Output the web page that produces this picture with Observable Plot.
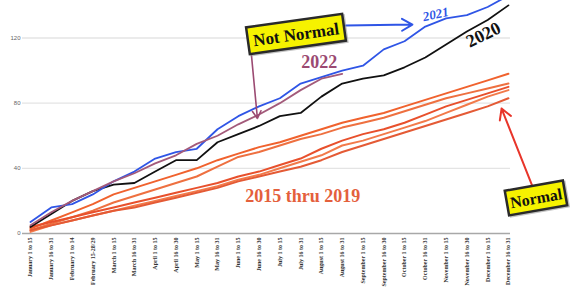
<!DOCTYPE html>
<html><head><meta charset="utf-8">
<script src="https://cdn.jsdelivr.net/npm/d3@7"></script>
<script src="https://cdn.jsdelivr.net/npm/@observablehq/plot@0.6"></script>
<style>html,body{margin:0;padding:0;background:#fff}#chart svg{display:block}</style>
</head><body><div id="chart"></div>
<script>
const periods = ["January 1 to 15","January 16 to 31","February 1 to 14","February 15-28/29",
  "March 1 to 15","March 16 to 31","April 1 to 15","April 16 to 30","May 1 to 15","May 16 to 31",
  "June 1 to 15","June 16 to 30","July 1 to 15","July 16 to 31","August 1 to 15","August 16 to 31",
  "September 1 to 15","September 16 to 30","October 1 to 15","October 16 to 31",
  "November 1 to 15","November 16 to 30","December 1 to 15","December 16 to 31"];
const yTicks = [0, 40, 80, 120];

const y2015 = [3, 8, 13, 18, 24, 28, 32, 36, 40, 45, 49, 53, 56, 60, 64, 68, 71, 74, 78, 82, 86, 90, 94, 98];
const y2016 = [2, 6, 10, 14, 19, 23, 27, 31, 35, 41, 47, 50, 54, 58, 61, 65, 68, 71, 75, 79, 83, 86, 89, 92];
const y2017 = [4, 7, 10, 13, 16, 19, 22, 25, 28, 31, 35, 38, 42, 46, 52, 57, 61, 64, 68, 73, 78, 82, 86, 90];
const y2018 = [1, 5, 8, 11, 14, 17, 20, 23, 26, 29, 33, 36, 40, 44, 48, 54, 57, 61, 65, 69, 74, 79, 84, 88];
const y2019 = [2, 5, 8, 11, 14, 16, 19, 22, 25, 28, 32, 35, 38, 41, 45, 50, 54, 58, 62, 66, 70, 74, 78, 83];
const y2020 = [4, 12, 20, 26, 30, 31, 38, 45, 45, 56, 61, 66, 72, 74, 84, 92, 95, 97, 102, 108, 116, 124, 131, 140];
const y2021 = [7, 16, 18, 24, 32, 38, 46, 50, 52, 64, 72, 78, 83, 92, 96, 100, 103, 113, 118, 127, 132, 134, 139, 146];
const y2022 = [5, 13, 20, 26, 32, 37, 43, 48, 55, 60, 67, 73, 80, 88, 95, 98];

const seriesNames = ["2015","2016","2017","2018","2019","2020","2021","2022"];
const seriesValues = [y2015, y2016, y2017, y2018, y2019, y2020, y2021, y2022];
const seriesColors = ["#f0622e","#ee7040","#e8502c","#f27a4a","#e45a35","#111111","#2f55e6","#a35a7a"];

const rows = seriesNames.flatMap((name, k) => seriesValues[k].map((v, i) => ({series: name, i, v})));
const orangeRows = rows.filter(d => +d.series <= 2019);
const topRows = rows.filter(d => +d.series >= 2020);

const serif = "Liberation Serif, Times New Roman, serif";

const plot = Plot.plot({
  width: 572, height: 297,
  marginLeft: 22, marginRight: 62, marginTop: 0, marginBottom: 64,
  x: {domain: [-0.385, 23.1]},
  y: {domain: [0, 143]},
  color: {domain: seriesNames, range: seriesColors},
  style: {background: "#fff", fontFamily: serif, overflow: "hidden"},
  marks: [
    Plot.ruleY(yTicks.slice(1), {stroke: "#e4e4e4", strokeWidth: 1.3}),
    Plot.ruleY([0], {stroke: "#a8a8a8", strokeWidth: 1.3}),
    Plot.axisY({ticks: yTicks, tickSize: 0, tickPadding: 2, fontSize: 6,
      fontFamily: "Liberation Sans, Arial, sans-serif", color: "#666", label: null}),
    Plot.axisX({ticks: d3.range(periods.length), tickFormat: i => periods[i], tickRotate: -90,
      tickSize: 0, tickPadding: 4, fontSize: 6, fontWeight: "bold", color: "#333", label: null}),
    Plot.line(orangeRows, {x: "i", y: "v", z: "series", stroke: "series", strokeWidth: 2, clip: true}),
    Plot.line(topRows, {x: "i", y: "v", z: "series", stroke: "series", strokeWidth: 1.8, clip: true}),
    Plot.arrow([0], {x1: 15.16, y1: 127.6, x2: 18.38, y2: 128.2, stroke: "#2f55e6", strokeWidth: 2, headLength: 9}),
    Plot.arrow([0], {x1: 10.59, y1: 115.3, x2: 10.92, y2: 70.6, stroke: "#9b4a72", strokeWidth: 1.6, headLength: 8}),
    Plot.arrow([0], {x1: 24.2, y1: 27.6, x2: 22.67, y2: 76.7, stroke: "#e8352a", strokeWidth: 2, headLength: 9}),
    Plot.text(["2022"], {x: 13.9, y: 105, text: d => d, fill: "#9b4a72", fontSize: 18, fontWeight: "bold", fontFamily: serif}),
    Plot.text(["2020"], {x: 21.8, y: 122, text: d => d, rotate: -26, fill: "#111", fontSize: 18, fontWeight: "bold", fontFamily: serif}),
    Plot.text(["2021"], {x: 19.5, y: 134.5, text: d => d, rotate: -12, fill: "#2f55e6", fontSize: 13, fontWeight: "bold", fontStyle: "italic", fontFamily: serif}),
    Plot.text(["2015 thru 2019"], {x: 13.1, y: 22.7, text: d => d, fill: "#e4603c", fontSize: 18, fontWeight: "bold", fontFamily: serif})
  ]
});

document.getElementById("chart").appendChild(plot);

const sx = plot.scale("x"), sy = plot.scale("y");
const svg = d3.select(plot);
function addBox(xi, yv, w, h, angle, label, fs) {
  const g = svg.append("g").attr("transform", `translate(${sx.apply(xi)},${sy.apply(yv)}) rotate(${angle})`);
  g.append("rect").attr("x", -w/2 + 1.5).attr("y", -h/2 + 1.5).attr("width", w).attr("height", h)
    .attr("fill", "none").attr("stroke", "#999").attr("stroke-width", 2).attr("opacity", 0.6);
  g.append("rect").attr("x", -w/2).attr("y", -h/2).attr("width", w).attr("height", h)
    .attr("fill", "#f6f200").attr("stroke", "#2a2a2a").attr("stroke-width", 2.5);
  g.append("text").attr("text-anchor", "middle").attr("dy", "0.36em")
    .attr("font-family", serif).attr("font-weight", "bold").attr("font-size", fs)
    .attr("fill", "#111").text(label);
}
addBox(12.8, 122.1, 97, 27, -8, "Not Normal", 17);
addBox(24.35, 21.5, 59, 25, -10, "Normal", 16);
</script>
</body></html>
